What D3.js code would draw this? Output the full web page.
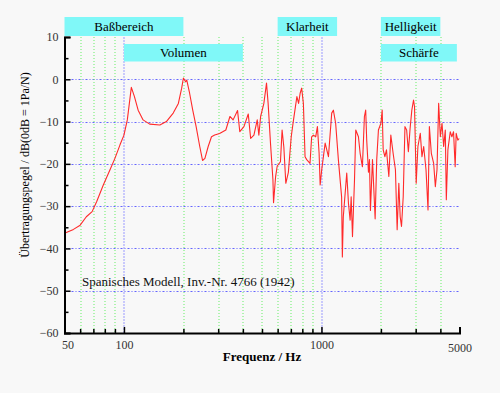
<!DOCTYPE html>
<html>
<head>
<meta charset="utf-8">
<script src="https://cdn.jsdelivr.net/npm/d3@7"></script>
<style>
  body { margin: 0; background: #f8f8f8; }
  svg { display: block; background: #f8f8f8; }
  text { font-family: "Liberation Serif", "DejaVu Serif", serif; }
</style>
</head>
<body>
<svg width="500" height="393"></svg>
<script>
// frequency response
var freq = [50, 55.5, 60, 64.5, 69, 72.8, 78.6, 85, 90, 95.5, 100, 104, 106.5, 109, 113, 118, 125, 135, 152, 164,
  177.6, 188.6, 196, 200, 205, 208, 215, 223, 232, 242, 250, 257, 267, 277.5, 288, 305, 328, 344, 357, 376,
  386, 405, 426, 438, 455, 473, 482, 492, 511, 527, 537, 552, 568, 572, 586, 597, 620, 632, 645, 660,
  680, 703, 722, 751, 766, 780, 794, 810, 826, 842, 875, 892, 910, 935, 954, 973, 985, 1003, 1044, 1085,
  1127, 1149, 1180, 1218, 1265, 1276, 1290, 1343, 1370, 1397, 1414, 1436, 1470, 1492, 1539, 1570, 1612, 1650, 1675, 1695,
  1730, 1750, 1770, 1813, 1870, 1905, 1943, 2000, 2030, 2054, 2095, 2134, 2194, 2245, 2306, 2369, 2417, 2465, 2504, 2543,
  2594, 2647, 2700, 2755, 2811, 2868, 2926, 2960, 3018, 3079, 3165, 3228, 3293, 3384, 3464, 3519, 3600, 3700, 3773, 3846,
  3921, 4000, 4078, 4157, 4237, 4288, 4367, 4489, 4575, 4664, 4754, 4810, 4903, 4980];
var level = [-36.4, -35.5, -34.5, -32.5, -31.3, -28.9, -25, -21.4, -18.7, -15.5, -13.2, -9.6, -5.7, -1.9, -4.1, -7.3, -9.6, -10.6, -10.8, -10,
  -8.0, -5.7, -2.1, 0.3, -0.6, -0.2, -3.3, -7.3, -11.2, -15.9, -19.2, -18.7, -15.9, -13.6, -13.2, -12.8, -12, -8.8, -9.6, -7.4,
  -12.4, -11.2, -8.2, -14, -13.2, -9.6, -13.2, -8.8, -5.7, -0.9, -5.7, -15.1, -23.8, -29.2, -23, -20.5, -19.5, -12, -16, -24.6,
  -22, -13.6, -9.6, -4.1, -5.7, -3.3, -2.1, -5.7, -18.3, -19, -19.9, -13.6, -13.2, -13.6, -11.2, -17.5, -25, -21.4, -15.1, -18.3,
  -8, -7.3, -10.4, -19, -27.8, -42, -32.5, -22.2, -29.3, -33.3, -27.8, -37.2, -23.8, -12, -13.6, -17.5, -20.7, -8.8, -7.3, -14.4,
  -22, -19, -31, -19, -33, -19, -12, -10.4, -7.3, -16.7, -18.3, -16.7, -23, -13.2, -17.5, -21.4, -35.6, -24.6, -32.5, -34.8,
  -27.8, -11.2, -12, -17.1, -11.6, -7.3, -4.9, -6.5, -24.6, -15.9, -12.8, -18.3, -15.9, -21.4, -30.9, -11.2, -17.5, -19.9, -25.4, -21.4,
  -5.7, -13.6, -10.4, -15.9, -12, -28.5, -16.7, -12.4, -13.6, -12.4, -20.7, -12.8, -14.4, -14];

// frequency bands shown as labels above the plot
var bandNames = ["Baßbereich", "Volumen", "Klarheit", "Helligkeit", "Schärfe"];
var bandFrom = [50, 100, 600, 2000, 2000];
var bandTo = [200, 400, 1200, 4000, 4850];
var bandRow = [0, 1, 0, 0, 1];

var xLabels = [50, 100, 1000, 5000];
var xMinor = [60, 70, 80, 90, 200, 300, 400, 500, 600, 700, 800, 900, 2000, 3000, 4000, 5000];
var xMajor = [100, 1000];
var xGridGreen = [60, 70, 80, 90, 200, 300, 400, 500, 600, 700, 800, 900, 2000, 3000, 4000];
var yMajor = [10, 0, -10, -20, -30, -40, -50, -60];
var yMinor = [5, -5, -15, -25, -35, -45, -55];
var yGrid = [0, -10, -20, -30, -40, -50];

var data = freq.map(function(f, i) { return {f: f, db: level[i]}; });

var svg = d3.select("svg"),
    margin = {top: 37, right: 40.5, bottom: 60, left: 64.5},
    width = +svg.attr("width") - margin.left - margin.right,
    height = +svg.attr("height") - margin.top - margin.bottom;

var x = d3.scaleLog().domain([50, 5000]).range([0, width]),
    y = d3.scaleLinear().domain([-60, 10]).range([height, 0]);

var g = svg.append("g")
    .attr("transform", "translate(" + margin.left + "," + margin.top + ")");

// grid
g.selectAll(".hgrid")
    .data(yGrid)
    .enter().append("line")
        .attr("x1", 0)
        .attr("x2", width - 1)
        .attr("y1", function(d) { return Math.round(y(d)) + 0.5; })
        .attr("y2", function(d) { return Math.round(y(d)) + 0.5; })
        .attr("stroke", "#6464ff")
        .attr("stroke-width", 1)
        .attr("stroke-dasharray", "2,2,1,2");

g.selectAll(".vgrid")
    .data(xGridGreen)
    .enter().append("line")
        .attr("x1", function(d) { return Math.round(x(d)) + 0.5; })
        .attr("x2", function(d) { return Math.round(x(d)) + 0.5; })
        .attr("y1", 0)
        .attr("y2", height)
        .attr("stroke", "#66ee66")
        .attr("stroke-width", 1)
        .attr("stroke-dasharray", "1,2");

g.selectAll(".vgrid2")
    .data(xMajor)
    .enter().append("line")
        .attr("x1", function(d) { return Math.round(x(d)) + 0.5; })
        .attr("x2", function(d) { return Math.round(x(d)) + 0.5; })
        .attr("y1", 0)
        .attr("y2", height)
        .attr("stroke", "#9a9aff")
        .attr("stroke-width", 1)
        .attr("stroke-dasharray", "2,1");

// band labels
var bands = svg.selectAll(".band")
    .data(bandNames)
    .enter().append("g")
        .attr("class", "band");

bands.append("rect")
    .attr("x", function(d, i) { return margin.left + x(bandFrom[i]); })
    .attr("y", function(d, i) { return bandRow[i] ? 44 : 17; })
    .attr("width", function(d, i) { return x(bandTo[i]) - x(bandFrom[i]); })
    .attr("height", function(d, i) { return bandRow[i] ? 17.5 : 19; })
    .attr("fill", "#80f8f8");

bands.append("text")
    .attr("x", function(d, i) { return margin.left + (x(bandFrom[i]) + x(bandTo[i])) / 2; })
    .attr("y", function(d, i) { return bandRow[i] ? 57 : 30.5; })
    .attr("text-anchor", "middle")
    .attr("font-size", "13px")
    .attr("fill", "#000")
    .text(function(d) { return d; });

// curve
var line = d3.line()
    .x(function(d) { return x(d.f); })
    .y(function(d) { return y(d.db); });

g.append("path")
    .datum(data)
    .attr("fill", "none")
    .attr("stroke", "#ff2a2a")
    .attr("stroke-width", 1.1)
    .attr("stroke-linejoin", "round")
    .attr("d", line);

// axes
g.append("g")
    .attr("class", "axis axis--y")
    .call(d3.axisLeft(y).tickValues(yMajor).tickSize(-6).tickPadding(6))
    .call(function(a) {
        a.select(".domain").attr("stroke-width", 2);
        a.selectAll("line").attr("stroke-width", 1.5);
        a.selectAll("text").attr("font-size", "12px").attr("fill", "#333");
    });

g.append("g")
    .call(d3.axisLeft(y).tickValues(yMinor).tickSize(-4).tickFormat(""))
    .call(function(a) {
        a.select(".domain").remove();
        a.selectAll("line").attr("stroke-width", 1.5);
    });

g.append("g")
    .attr("class", "axis axis--x")
    .attr("transform", "translate(0," + height + ")")
    .call(d3.axisBottom(x).tickValues(xMajor).tickSize(-6).tickFormat(""))
    .call(function(a) {
        a.select(".domain").attr("stroke-width", 2);
        a.selectAll("line").attr("stroke-width", 1.5);
    });

g.append("g")
    .attr("transform", "translate(0," + height + ")")
    .call(d3.axisBottom(x).tickValues(xMinor).tickSize(-4).tickFormat(""))
    .call(function(a) {
        a.select(".domain").remove();
        a.selectAll("line").attr("stroke-width", 1.5);
    });

g.append("g")
    .attr("transform", "translate(0," + height + ")")
    .call(d3.axisBottom(x).tickValues(xLabels).tickSize(0).tickPadding(7.5).tickFormat(d3.format("d")))
    .call(function(a) {
        a.select(".domain").remove();
        a.selectAll("text").attr("font-size", "12px").attr("fill", "#333")
            .attr("dx", function(d) { return d === 50 ? 3 : 0; })
            .attr("dy", function(d) { return d === 5000 ? "0.95em" : "0.71em"; });
    });

// titles
svg.append("text")
    .attr("x", 262)
    .attr("y", 361)
    .style("text-anchor", "middle")
    .style("font-size", "13px")
    .style("font-weight", "bold")
    .text("Frequenz / Hz");

svg.append("text")
    .attr("transform", "translate(29,165) rotate(-90)")
    .style("text-anchor", "middle")
    .style("font-size", "12px")
    .text("Übertragungspegel / dB(0dB = 1Pa/N)");

svg.append("text")
    .attr("x", 82)
    .attr("y", 286)
    .style("font-size", "13px")
    .attr("fill", "#111")
    .text("Spanisches Modell, Inv.-Nr. 4766 (1942)");
</script>
</body>
</html>
